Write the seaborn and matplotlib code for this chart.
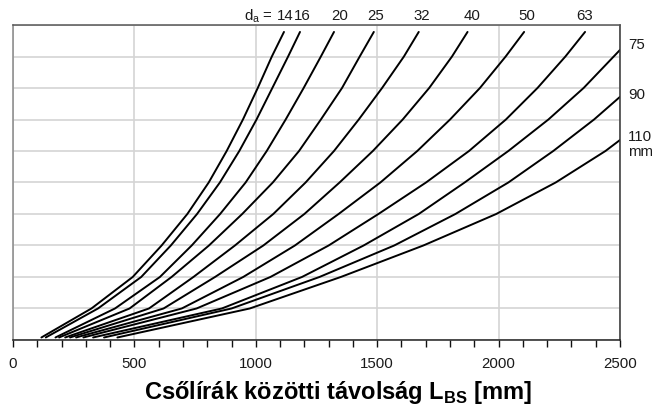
import numpy as np
import pandas as pd
import seaborn as sns
import matplotlib.pyplot as plt
from matplotlib.ticker import MultipleLocator

# pipe outer diameters d_a [mm], one curve each
diameters = [14, 16, 20, 25, 32, 40, 50, 63, 75, 90, 110]

# points: distance L_BS [mm] at the given height (grid units 0..10)
y_std = [0.08, 1, 2, 3, 4, 5, 6, 7, 8, 9, 9.78]
x_14 = [117, 323, 493, 612, 718, 806, 880, 947, 1008, 1066, 1116]
x_16 = [135, 350, 528, 650, 758, 852, 932, 1003, 1068, 1133, 1182]
x_20 = [175, 420, 605, 736, 853, 958, 1045, 1123, 1197, 1268, 1322]
x_25 = [190, 480, 653, 807, 944, 1070, 1178, 1268, 1355, 1428, 1486]
x_32 = [215, 560, 743, 914, 1072, 1205, 1322, 1424, 1520, 1610, 1671]
x_40 = [235, 620, 832, 1031, 1200, 1345, 1482, 1605, 1714, 1808, 1872]
x_50 = [260, 695, 948, 1161, 1341, 1513, 1665, 1800, 1923, 2029, 2105]
x_63 = [290, 756, 1060, 1300, 1505, 1701, 1878, 2030, 2160, 2275, 2356]
x_75 = [330, 860, 1190, 1444, 1671, 1860, 2040, 2205, 2350, 2474, 2500]
y_75 = [0.08, 1, 2, 3, 4, 5, 6, 7, 8, 9, 9.21]
x_90 = [375, 900, 1262, 1570, 1822, 2040, 2225, 2393, 2500]
y_90 = [0.08, 1, 2, 3, 4, 5, 6, 7, 7.72]
x_110 = [430, 975, 1350, 1690, 1990, 2235, 2440, 2500]
y_110 = [0.08, 1, 2, 3, 4, 5, 6, 6.35]

xs = [x_14, x_16, x_20, x_25, x_32, x_40, x_50, x_63, x_75, x_90, x_110]
ys = [y_std] * 8 + [y_75, y_90, y_110]

rows = []
for d, xv, yv in zip(diameters, xs, ys):
    for i, (a, b) in enumerate(zip(xv, yv)):
        rows.append({"d": d, "order": i, "L": a, "h": b})
df = pd.DataFrame(rows)

top_labels = ["14", "16", "20", "25", "32", "40", "50", "63"]
right_labels = ["75", "90", "110", "mm"]

sns.set_style("white")
plt.rcParams["font.family"] = ["Liberation Sans", "DejaVu Sans"]
plt.rcParams["text.color"] = "#1a1a1a"
plt.rcParams["xtick.color"] = "#1a1a1a"

fig = plt.figure(figsize=(6.53, 4.08), dpi=100)
ax = fig.add_axes([0.0199, 0.1667, 0.9296, 0.772])

sns.lineplot(data=df, x="L", y="h", hue="d", units="d", estimator=None,
             sort=False, palette=["black"] * len(diameters), legend=False,
             linewidth=1.4, ax=ax)

ax.set_xlim(0, 2500)
ax.set_ylim(0, 10)
ax.xaxis.set_major_locator(MultipleLocator(500))
ax.xaxis.set_minor_locator(MultipleLocator(100))
ax.yaxis.set_major_locator(MultipleLocator(1))
ax.set_yticklabels([])
ax.tick_params(axis="y", length=0)
ax.tick_params(axis="x", which="both", direction="out", length=5, width=1,
               color="#111111", labelsize=10.8, pad=7, bottom=True,
               labelcolor="#1a1a1a")
ax.grid(True, which="major", color="#d4d4d4", linewidth=1.2)
ax.set_axisbelow(True)

for side, col in [("left", "#888888"), ("top", "#555555"),
                  ("right", "#333333"), ("bottom", "#222222")]:
    ax.spines[side].set_visible(True)
    ax.spines[side].set_color(col)
    ax.spines[side].set_linewidth(1.1)

ax.set_xlabel("Csőlírák közötti távolság L$_{\\mathregular{BS}}$ [mm]",
              fontsize=17, fontweight="bold", labelpad=4, color="black")
ax.xaxis.set_label_coords(0.536, -0.125)
ax.set_ylabel("")

# diameter labels along the top and right edge
top_pos = [1120, 1190, 1347, 1495, 1684, 1890, 2117, 2356]
for lab, xv in zip(top_labels, top_pos):
    ax.text(xv, 10.29, lab, ha="center", va="center", fontsize=10.8)
ax.text(1072, 10.29, "d$_{\\mathregular{a}}$ =", ha="right", va="center",
        fontsize=10.8)
right_pos = [9.37, 7.78, 6.44, 5.97]
for lab, yv in zip(right_labels, right_pos):
    ax.text(2533, yv, lab, ha="left", va="center", fontsize=10.8)

fig.savefig("out.png", dpi=100)
